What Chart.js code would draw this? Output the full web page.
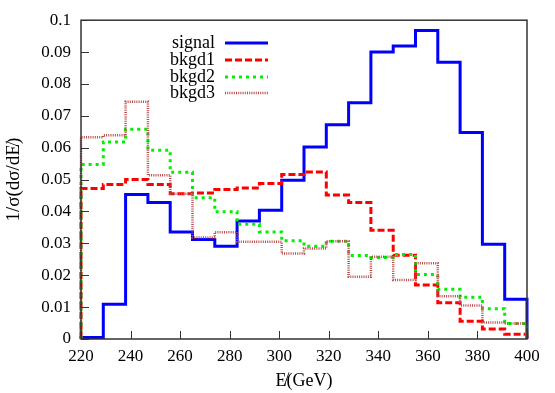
<!DOCTYPE html>
<html>
<head>
<meta charset="utf-8">
<script src="https://cdn.jsdelivr.net/npm/chart.js@4.4.1/dist/chart.umd.min.js"></script>
<style>
  body { margin: 0; background: #fff; }
  #wrap { width: 555px; height: 393px; }
</style>
</head>
<body>
<div id="wrap"><canvas id="chart"></canvas></div>
<script>
// bin edges (GeV) and normalised distributions per bin
const binEdges = [220, 229, 238, 247, 256, 265, 274, 283, 292, 301, 310, 319, 328, 337, 346, 355, 364, 373, 382, 391, 400];
const signal = [0.0005, 0.0109, 0.0453, 0.0428, 0.0336, 0.0312, 0.0291, 0.0370, 0.0404, 0.0498, 0.0602, 0.0672, 0.0741, 0.0900, 0.0919, 0.0968, 0.0868, 0.0648, 0.0297, 0.0125];
const bkgd1 = [0.0472, 0.0485, 0.0500, 0.0485, 0.0456, 0.0458, 0.0469, 0.0474, 0.0488, 0.0516, 0.0524, 0.0452, 0.0428, 0.0341, 0.0263, 0.0169, 0.0114, 0.0056, 0.0031, 0.0015];
const bkgd2 = [0.0547, 0.0618, 0.0658, 0.0592, 0.0523, 0.0443, 0.0399, 0.0360, 0.0336, 0.0308, 0.0291, 0.0307, 0.0262, 0.0256, 0.0265, 0.0202, 0.0156, 0.0131, 0.0095, 0.0049];
const bkgd3 = [0.0633, 0.0639, 0.0744, 0.0514, 0.0456, 0.0318, 0.0335, 0.0305, 0.0305, 0.0268, 0.0284, 0.0307, 0.0195, 0.0258, 0.0185, 0.0238, 0.0134, 0.0105, 0.0052, 0.0049];
const seriesLabels = ['signal', 'bkgd1', 'bkgd2', 'bkgd3'];

const FONT = "'Liberation Serif', 'DejaVu Serif', serif";

// histogram outline: drop to 0 at both ends
function histPoints(vals) {
    const pts = [{ x: binEdges[0], y: 0 }];
    vals.forEach((v, i) => pts.push({ x: binEdges[i], y: v }));
    pts.push({ x: binEdges[binEdges.length - 1], y: vals[vals.length - 1] });
    pts.push({ x: binEdges[binEdges.length - 1], y: 0 });
    return pts;
}

const styles = [
    { color: '#0000ff', dash: [], width: 3 },
    { color: '#ff0000', dash: [7, 3], width: 3 },
    { color: '#00f000', dash: [3, 4], width: 3 },
    { color: '#b84848', dash: [1, 1.2], width: 2.5 }
];

const datasets = [signal, bkgd1, bkgd2, bkgd3].map((vals, i) => ({
    label: seriesLabels[i],
    data: histPoints(vals),
    borderColor: styles[i].color,
    borderDash: styles[i].dash,
    borderWidth: styles[i].width,
    stepped: true,
    pointRadius: 0,
    fill: false,
    clip: false,
    order: 4 - i
}));

// inward ticks, frame and gnuplot-style key
const framePlugin = {
    id: 'frame',
    afterDraw(chart) {
        const { ctx, chartArea: a, scales: { x, y } } = chart;
        ctx.save();
        ctx.strokeStyle = '#333';
        ctx.lineWidth = 1;
        ctx.beginPath();
        x.ticks.forEach(t => {
            const px = Math.round(x.getPixelForValue(t.value)) + 0.5;
            ctx.moveTo(px, a.bottom); ctx.lineTo(px, a.bottom - 8);
        });
        y.ticks.forEach(t => {
            const py = Math.round(y.getPixelForValue(t.value)) + 0.5;
            ctx.moveTo(a.left, py); ctx.lineTo(a.left + 8, py);
        });
        ctx.stroke();
        ctx.lineWidth = 1.5;
        ctx.strokeRect(a.left, a.top, a.right - a.left, a.bottom - a.top);

        // key
        const rows = [43, 60, 77, 93];
        ctx.font = "18px " + FONT;
        ctx.textAlign = 'right';
        ctx.textBaseline = 'middle';
        chart.data.datasets.forEach((ds, i) => {
            ctx.fillStyle = '#000';
            ctx.fillText(ds.label, 215, rows[i]);
            ctx.strokeStyle = ds.borderColor;
            ctx.lineWidth = ds.borderWidth;
            ctx.setLineDash(ds.borderDash);
            ctx.beginPath();
            ctx.moveTo(225, rows[i]); ctx.lineTo(268, rows[i]);
            ctx.stroke();
            ctx.setLineDash([]);
        });
        ctx.restore();
    }
};

new Chart(document.getElementById('chart'), {
    type: 'line',
    data: { datasets },
    options: {
        responsive: true,
        maintainAspectRatio: false,
        animation: false,
        layout: { padding: { top: 20, right: 28, left: 0, bottom: 0 } },
        plugins: { legend: { display: false }, tooltip: { enabled: false } },
        scales: {
            x: {
                type: 'linear',
                min: 220, max: 400,
                grid: { display: false, drawTicks: false },
                border: { display: false },
                ticks: { stepSize: 20, padding: 7, color: '#000', font: { family: FONT, size: 17 }, maxRotation: 0 },
                title: { display: true, text: 'E̸(GeV)', color: '#000', font: { family: FONT, size: 18 }, padding: { top: 0, bottom: 1 } },
                afterFit(scale) { scale.height = 54; }
            },
            y: {
                min: 0, max: 0.1,
                grid: { display: false, drawTicks: false },
                border: { display: false },
                ticks: {
                    stepSize: 0.01, padding: 10, color: '#000', font: { family: FONT, size: 17 },
                    callback: v => v === 0 ? '0' : String(+v.toFixed(2))
                },
                title: { display: true, text: '1/σ(dσ/dE̸)', color: '#000', font: { family: FONT, size: 19 }, padding: { top: 3, bottom: 0 } },
                afterFit(scale) { scale.width = 81; }
            }
        }
    },
    plugins: [framePlugin]
});
</script>
</body>
</html>
